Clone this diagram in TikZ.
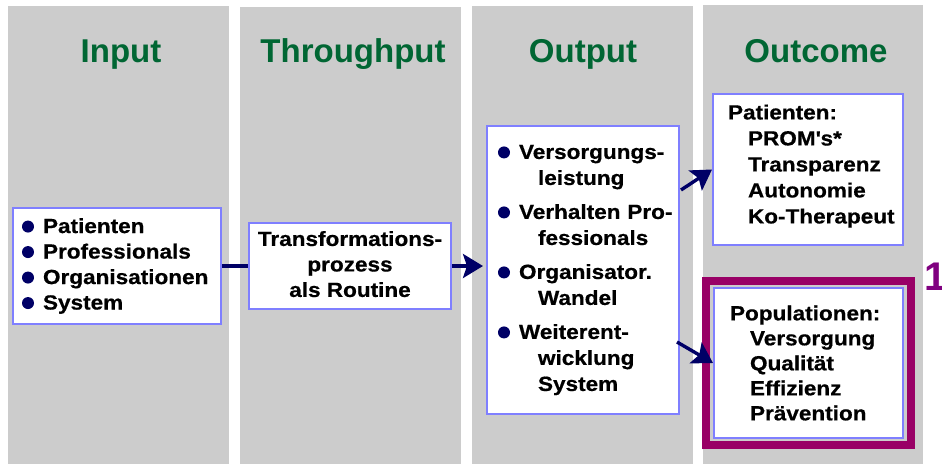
\documentclass[tikz,border=0pt]{standalone}
\usepackage{fontspec}
\setmainfont{Liberation Sans}
\newfontfamily\boxfont[FakeStretch=1.1,FakeBold=0.6]{Liberation Sans}
\usepackage{tikz}
\usetikzlibrary{arrows.meta,calc,positioning}
\definecolor{colgray}{HTML}{CCCCCC}
\definecolor{headgreen}{HTML}{006633}
\definecolor{arrownavy}{HTML}{000066}
\definecolor{boxblue}{HTML}{7F7FFF}
\definecolor{framemag}{HTML}{990066}
\definecolor{numpurple}{HTML}{800080}
\newcommand\bul{\makebox[21pt][l]{\tikz[baseline=-6.5pt]\fill[arrownavy] (0,0) circle (6pt);}}

\begin{document}
\begin{tikzpicture}[x=1pt,y=-1pt,
    head/.style={anchor=base, inner sep=0pt, text=headgreen, font=\bfseries\fontsize{33}{33}\selectfont},
    txtbox/.style={draw=boxblue, line width=2pt, fill=white, inner ysep=0pt, align=left,
      font=\boxfont\bfseries\fontsize{20.5}{25.5}\selectfont},
    link/.style={draw=arrownavy, line width=3.4pt},
    arr/.style={link, -{Stealth[length=20pt,width=24pt,inset=4pt]}}]
  \useasboundingbox (0,0) rectangle (942,464);
  \fill[colgray] (8,6) rectangle (229,464);
  \fill[colgray] (240,7) rectangle (461,464);
  \fill[colgray] (472,6) rectangle (693,464);
  \fill[colgray] (703,5) rectangle (923,464);

  \node[head] (hin) at (121,62) {Input};
  \node[head] (hthru) at (353,62) {Throughput};
  \node[head] (hout) at (583,62) {Output};
  \node[head] (hoc) at (816,62) {Outcome};

  \node[txtbox, minimum width=208pt, minimum height=116pt, text width=190pt, inner xsep=9pt] (inp) at (117,266)
    {\bul Patienten\\ \bul Professionals\\ \bul Organisationen\\ \bul System};
  \node[txtbox, minimum width=202pt, minimum height=86pt, inner xsep=0pt, align=center] (thru) at (350,266)
    {Transformations-\\prozess\\als Routine\rule[-4pt]{0pt}{4pt}};
  \node[txtbox, minimum width=192pt, minimum height=288pt, text width=170pt, inner xsep=11pt,
    font=\boxfont\bfseries\fontsize{20.5}{26}\selectfont] (outp) at (583,270)
    {\bul Versorgungs-\\ \hspace*{40pt}leistung\\[8pt]
     \bul \mbox{Verhalten Pro-}\\ \hspace*{40pt}fessionals\\[8pt]
     \bul Organisator.\\ \hspace*{40pt}Wandel\\[8pt]
     \bul Weiterent-\\ \hspace*{40pt}wicklung\\ \hspace*{40pt}System};
  \node[txtbox, minimum width=190pt, minimum height=151pt, text width=160pt, inner xsep=15pt,
    font=\boxfont\bfseries\fontsize{20.5}{26}\selectfont] (pat) at (808,169.5)
    {Patienten:\\ \hspace*{20pt}PROM\textquotesingle s*\\ \hspace*{20pt}Transparenz\\
     \hspace*{20pt}Autonomie\\ \hspace*{20pt}\mbox{Ko-Therapeut}\rule[-11pt]{0pt}{11pt}};
  \node[txtbox, minimum width=189pt, minimum height=150pt, text width=157pt, inner xsep=16pt,
    font=\boxfont\bfseries\fontsize{20.5}{25}\selectfont] (pop) at (808.5,363)
    {Populationen:\\ \hspace*{20pt}Versorgung\\ \hspace*{20pt}Qualität\\
     \hspace*{20pt}Effizienz\\ \hspace*{20pt}Prävention};
  \draw[framemag, line width=8pt] ($(pop.north west)+(-7,-6)$) rectangle ($(pop.south east)+(7,6)$);
  \node[anchor=base west, inner sep=0pt, text=numpurple, font=\bfseries\fontsize{40}{40}\selectfont] (num) at (924,290) {1};

  \draw[link] (inp.east) -- (thru.west);
  \draw[arr, shorten >=3pt] (thru.east) -- (thru.east -| outp.west);
  \draw[arr] ($(outp.east)+(1,-80)$) -- (pat.west);
  \draw[arr] ($(outp.east)+(-3,72)$) -- (pop.west);
\end{tikzpicture}
\end{document}
